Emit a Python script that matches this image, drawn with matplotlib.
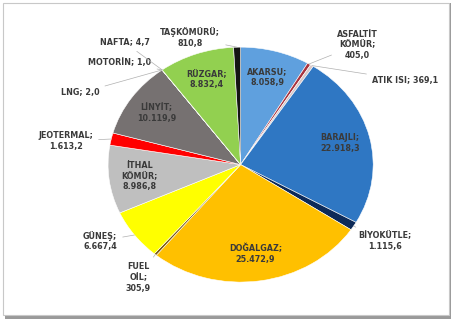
import matplotlib.pyplot as plt
import matplotlib.patches as mpatches
import numpy as np

# installed capacity by source (MW)
sources = ["AKARSU", "ASFALTİT\nKÖMÜR", "ATIK ISI", "BARAJLI", "BİYOKÜTLE",
           "DOĞALGAZ", "FUEL\nOİL", "GÜNEŞ", "İTHAL\nKÖMÜR", "JEOTERMAL",
           "LİNYİT", "LNG", "MOTORİN", "NAFTA", "RÜZGAR", "TAŞKÖMÜRÜ"]
capacity = [8058.9, 405.0, 369.1, 22918.3, 1115.6,
            25472.9, 305.9, 6667.4, 8986.8, 1613.2,
            10119.9, 2.0, 1.0, 4.7, 8832.4, 810.8]
colors = ["#5fa0de", "#a8323e", "#d9c7c7", "#2f77c3", "#0d2a58",
          "#ffc000", "#7a5a10", "#ffff00", "#bfbfbf", "#ff0000",
          "#767171", "#6f6f6f", "#6f6f6f", "#6f6f6f", "#92d050", "#141414"]

# labels drawn inside the wedge
inside = {"AKARSU", "BARAJLI", "DOĞALGAZ", "İTHAL\nKÖMÜR", "LİNYİT", "RÜZGAR"}
# labels kept on a single line
one_line = {"ATIK ISI", "LNG", "MOTORİN", "NAFTA"}
# text positions for the outside labels (data coords, pie radius = 1)
outside_pos = {
    "ASFALTİT\nKÖMÜR": (0.88, 1.02),
    "ATIK ISI": (1.24, 0.72),
    "BİYOKÜTLE": (1.09, -0.65),
    "FUEL\nOİL": (-0.77, -0.96),
    "GÜNEŞ": (-1.06, -0.65),
    "JEOTERMAL": (-1.32, 0.20),
    "LNG": (-1.21, 0.61),
    "MOTORİN": (-0.91, 0.87),
    "NAFTA": (-0.875, 1.04),
    "TAŞKÖMÜRÜ": (-0.38, 1.08),
}


def tr_number(v):
    s = f"{v:,.1f}"
    return s.replace(",", "X").replace(".", ",").replace("X", ".")


fig = plt.figure(figsize=(4.54, 3.25), dpi=100)

# frame with a soft shadow
fig.patches.append(mpatches.Rectangle((0.012, 0.02), 0.982, 0.972, transform=fig.transFigure,
                                      facecolor="#9a9a9a", edgecolor="none", zorder=-3))
fig.patches.append(mpatches.Rectangle((0.006, 0.03), 0.982, 0.962, transform=fig.transFigure,
                                      facecolor="white", edgecolor="#c8c8c8", lw=0.8, zorder=-2))

ax = fig.add_axes([0.238, 0.132, 0.584, 0.723])
ax.patch.set_alpha(0)
wedges, _ = ax.pie(capacity, colors=colors, startangle=90, counterclock=False,
                   wedgeprops=dict(edgecolor="white", linewidth=0.4))
ax.set_aspect("auto")
ax.set_xlim(-1, 1)
ax.set_ylim(-1, 1)
ax.axis("off")

font = dict(fontsize=5.8, fontweight="bold", color="#3a3a3a", ha="center", va="center",
            linespacing=1.25)

for w, name, val in zip(wedges, sources, capacity):
    mid = np.deg2rad((w.theta1 + w.theta2) / 2)
    sep = "; " if name in one_line else ";\n"
    text = f"{name}{sep}{tr_number(val)}"
    if name in inside:
        ax.text(0.77 * np.cos(mid), 0.77 * np.sin(mid), text, **font)
    else:
        tx, ty = outside_pos[name]
        ax.annotate(text, xy=(np.cos(mid), np.sin(mid)), xytext=(tx, ty),
                    arrowprops=dict(arrowstyle="-", color="#b0b0b0", lw=0.5,
                                    shrinkA=2, shrinkB=0),
                    annotation_clip=False, **font)

fig.savefig("out.png", dpi=100)
